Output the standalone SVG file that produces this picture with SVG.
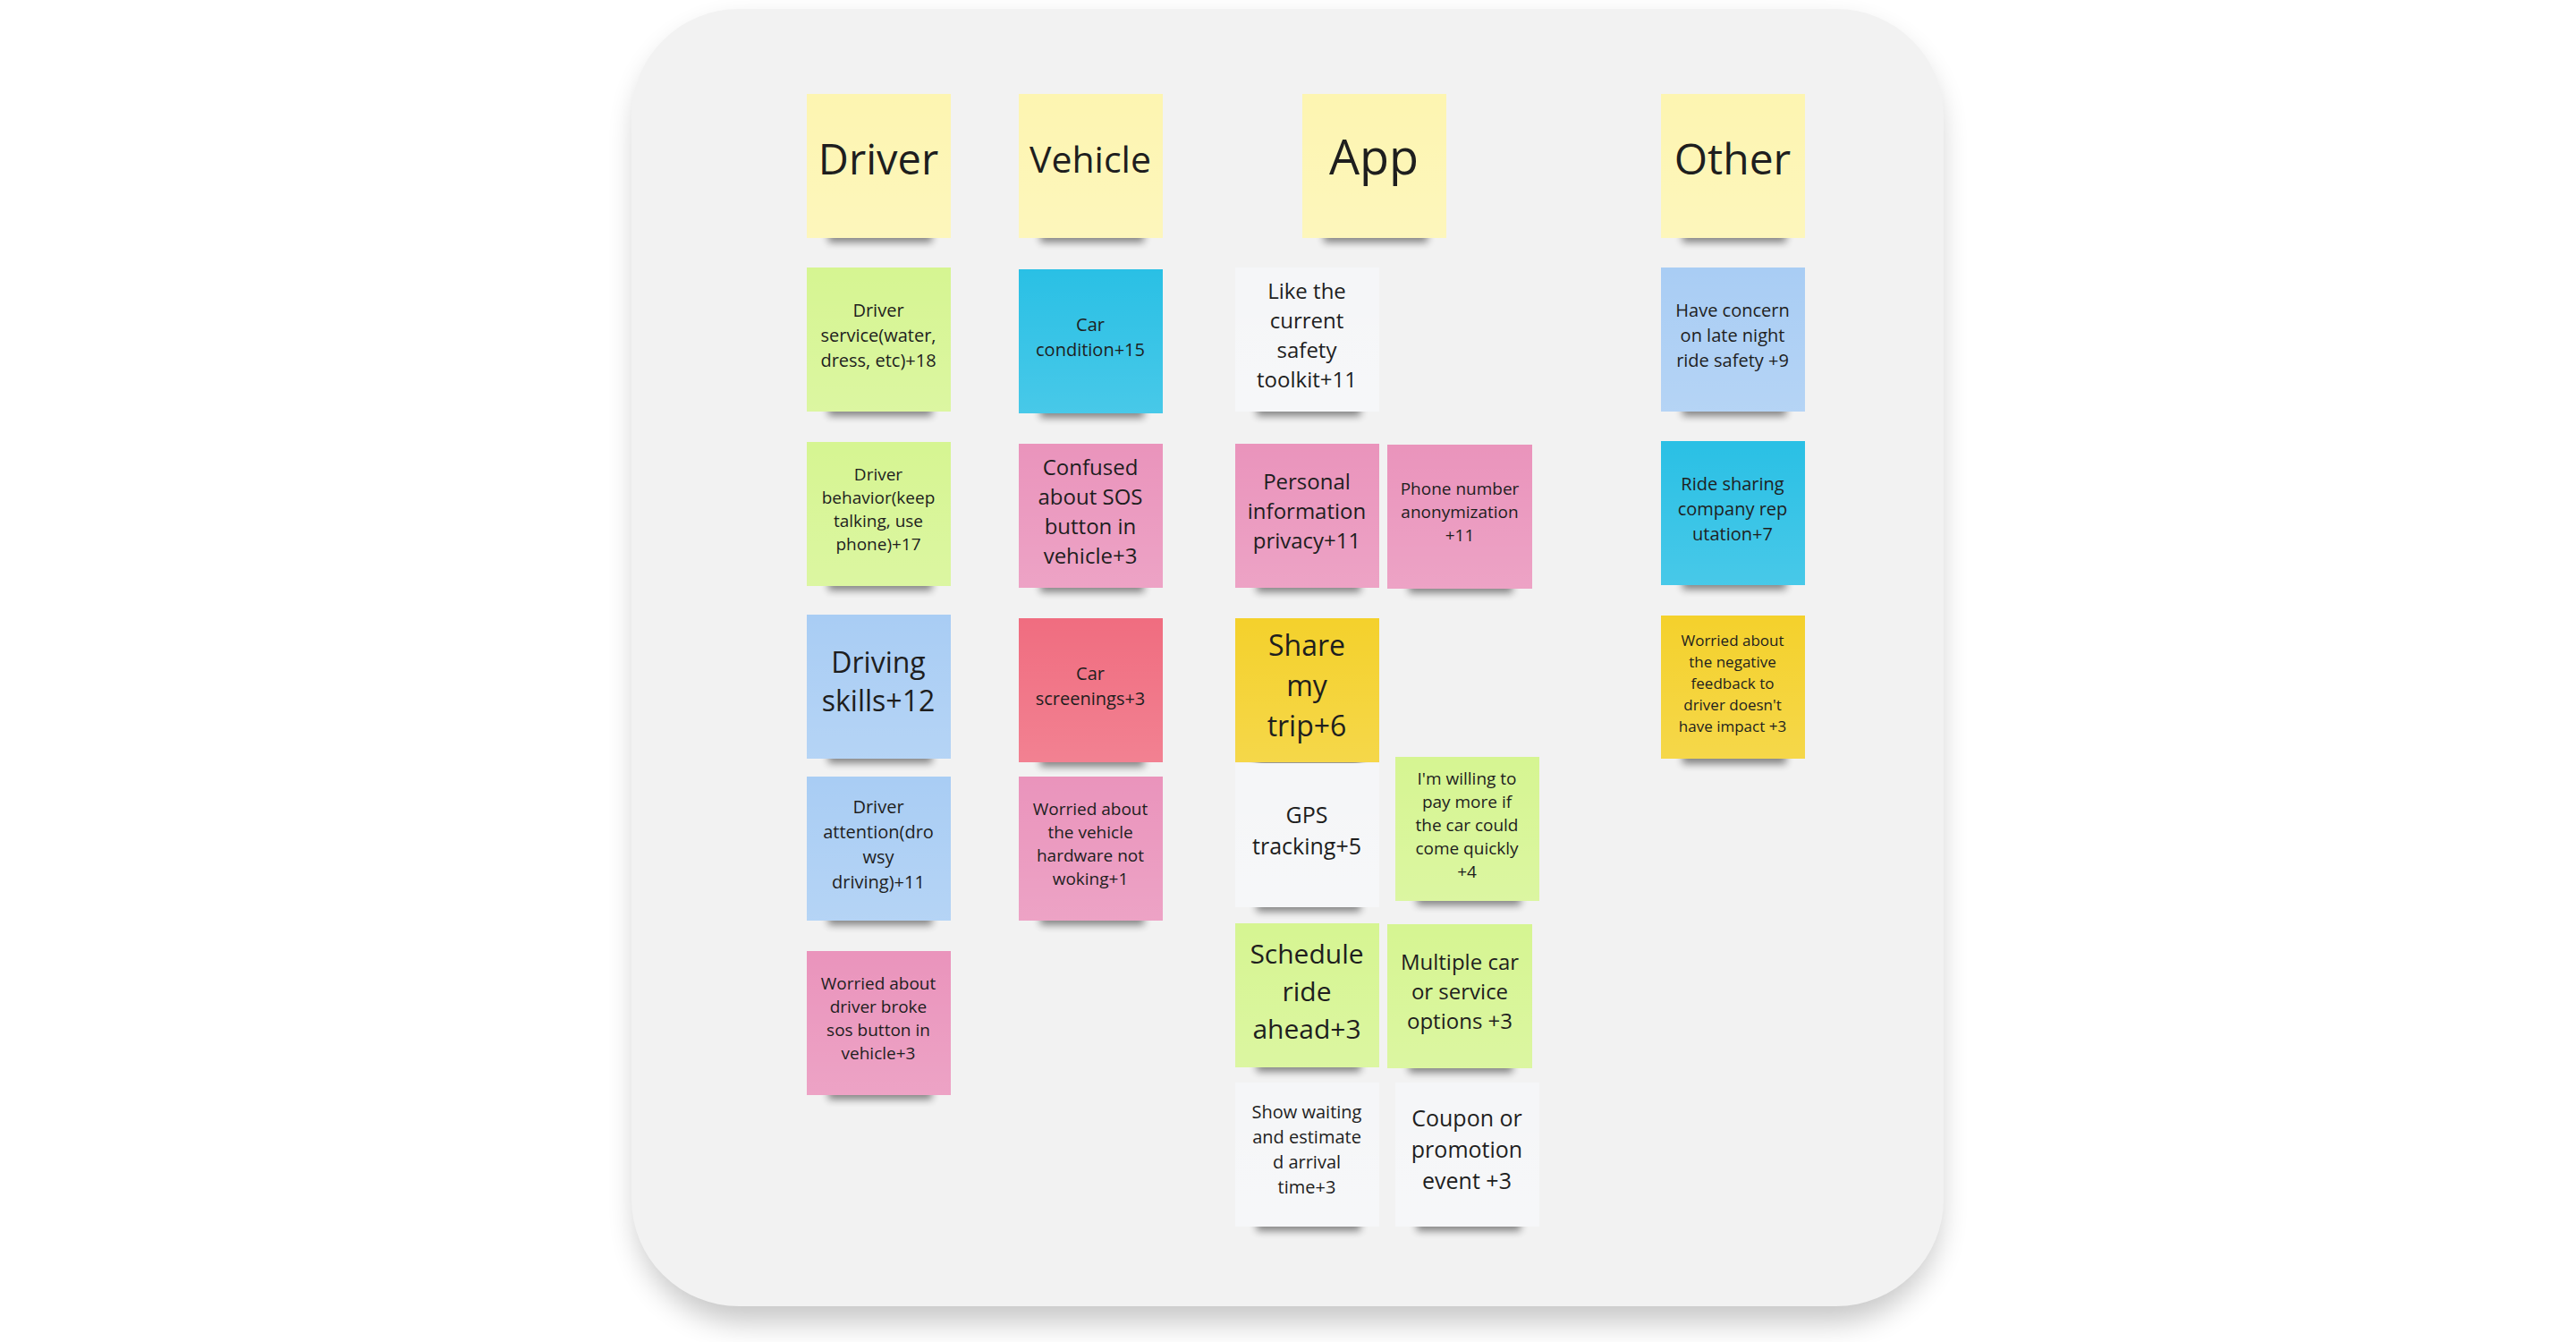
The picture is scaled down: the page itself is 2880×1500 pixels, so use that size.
<svg xmlns="http://www.w3.org/2000/svg" width="2880" height="1500" viewBox="0 0 2880 1500">
<defs>
<filter id="boardShadow" x="-10%" y="-10%" width="120%" height="125%">
<feGaussianBlur stdDeviation="16"/>
</filter>
<filter id="noteShadow" x="-20%" y="-200%" width="140%" height="500%">
<feGaussianBlur stdDeviation="4"/>
</filter>
<linearGradient id="sheen" x1="0" y1="0" x2="0" y2="1">
<stop offset="0" stop-color="#ffffff" stop-opacity="0"/>
<stop offset="1" stop-color="#ffffff" stop-opacity="0.14"/>
</linearGradient>
<style>
.yel{fill:#fdf5b1}
.grn{fill:#d6f592}
.blu{fill:#a9cdf4}
.cyn{fill:#2ac0e5}
.pnk{fill:#ea94bc}
.red{fill:#f06d80}
.gld{fill:#f4d12c}
.wht{fill:#f5f6f8}
.sh{fill:#000;opacity:0.45;filter:url(#noteShadow)}
.sh2{fill:#000;opacity:0.08;filter:url(#boardShadow)}
.gl{fill:url(#sheen)}
text{font-family:"Open Sans","Noto Sans","Liberation Sans",sans-serif;fill:#1e1e1e;text-anchor:middle}
</style>
</defs>
<rect x="0" y="0" width="2880" height="1500" fill="#ffffff"/>
<g id="board">
<rect x="712" y="28" width="1456" height="1450" rx="120" fill="#000" opacity="0.22" filter="url(#boardShadow)"/>
<rect x="706" y="10" width="1467" height="1450" rx="120" fill="#f2f2f2"/>
</g>
<g id="connectors"/>

<g id="h-driver" transform="translate(902,105)">
<rect class="sh" x="24" y="150" width="116" height="16"/>
<rect class="yel" width="161" height="161"/><rect class="gl" width="161" height="161"/>
<text x="80" y="90" font-size="47">Driver</text>
</g>
<g id="h-vehicle" transform="translate(1139,105)">
<rect class="sh" x="24" y="150" width="116" height="16"/>
<rect class="yel" width="161" height="161"/><rect class="gl" width="161" height="161"/>
<text x="80" y="88" font-size="41">Vehicle</text>
</g>
<g id="h-app" transform="translate(1456,105)">
<rect class="sh" x="24" y="150" width="116" height="16"/>
<rect class="yel" width="161" height="161"/><rect class="gl" width="161" height="161"/>
<text x="80" y="90" font-size="54">App</text>
</g>
<g id="h-other" transform="translate(1857,105)">
<rect class="sh" x="24" y="150" width="116" height="16"/>
<rect class="yel" width="161" height="161"/><rect class="gl" width="161" height="161"/>
<text x="80" y="90" font-size="48">Other</text>
</g>

<g id="driver-service" transform="translate(902,299)" font-size="20">
<rect class="sh" x="24" y="150" width="116" height="16"/>
<rect class="grn" width="161" height="161"/><rect class="gl" width="161" height="161"/>
<text x="80" y="54.5">Driver</text><text x="80" y="82.5">service(water,</text><text x="80" y="110.5">dress, etc)+18</text>
</g>
<g id="driver-behavior" transform="translate(902,494)" font-size="19">
<rect class="sh" x="24" y="150" width="116" height="16"/>
<rect class="grn" width="161" height="161"/><rect class="gl" width="161" height="161"/>
<text x="80" y="43">Driver</text><text x="80" y="69">behavior(keep</text><text x="80" y="95">talking, use</text><text x="80" y="121">phone)+17</text>
</g>
<g id="driving-skills" transform="translate(902,687)" font-size="32">
<rect class="sh" x="24" y="150" width="116" height="16"/>
<rect class="blu" width="161" height="161"/><rect class="gl" width="161" height="161"/>
<text x="80" y="65">Driving</text><text x="80" y="108">skills+12</text>
</g>
<g id="driver-attention" transform="translate(902,868)" font-size="20">
<rect class="sh" x="24" y="150" width="116" height="16"/>
<rect class="blu" width="161" height="161"/><rect class="gl" width="161" height="161"/>
<text x="80" y="40.5">Driver</text><text x="80" y="68.5">attention(dro</text><text x="80" y="96.5">wsy</text><text x="80" y="124.5">driving)+11</text>
</g>
<g id="driver-sos" transform="translate(902,1063)" font-size="19">
<rect class="sh" x="24" y="150" width="116" height="16"/>
<rect class="pnk" width="161" height="161"/><rect class="gl" width="161" height="161"/>
<text x="80" y="43">Worried about</text><text x="80" y="69">driver broke</text><text x="80" y="95">sos button in</text><text x="80" y="121">vehicle+3</text>
</g>

<g id="car-condition" transform="translate(1139,301)" font-size="20">
<rect class="sh" x="24" y="150" width="116" height="16"/>
<rect class="cyn" width="161" height="161"/><rect class="gl" width="161" height="161"/>
<text x="80" y="68.5">Car</text><text x="80" y="96.5">condition+15</text>
</g>
<g id="confused-sos" transform="translate(1139,496)" font-size="24">
<rect class="sh" x="24" y="150" width="116" height="16"/>
<rect class="pnk" width="161" height="161"/><rect class="gl" width="161" height="161"/>
<text x="80" y="34.5">Confused</text><text x="80" y="67.5">about SOS</text><text x="80" y="100.5">button in</text><text x="80" y="133.5">vehicle+3</text>
</g>
<g id="car-screenings" transform="translate(1139,691)" font-size="20">
<rect class="sh" x="24" y="150" width="116" height="16"/>
<rect class="red" width="161" height="161"/><rect class="gl" width="161" height="161"/>
<text x="80" y="68.5">Car</text><text x="80" y="96.5">screenings+3</text>
</g>
<g id="vehicle-hardware" transform="translate(1139,868)" font-size="19">
<rect class="sh" x="24" y="150" width="116" height="16"/>
<rect class="pnk" width="161" height="161"/><rect class="gl" width="161" height="161"/>
<text x="80" y="43">Worried about</text><text x="80" y="69">the vehicle</text><text x="80" y="95">hardware not</text><text x="80" y="121">woking+1</text>
</g>

<g id="safety-toolkit" transform="translate(1381,299)" font-size="24">
<rect class="sh" x="24" y="150" width="116" height="16"/>
<rect class="wht" width="161" height="161"/><rect class="gl" width="161" height="161"/>
<text x="80" y="34.5">Like the</text><text x="80" y="67.5">current</text><text x="80" y="100.5">safety</text><text x="80" y="133.5">toolkit+11</text>
</g>
<g id="personal-privacy" transform="translate(1381,496)" font-size="24">
<rect class="sh" x="24" y="150" width="116" height="16"/>
<rect class="pnk" width="161" height="161"/><rect class="gl" width="161" height="161"/>
<text x="80" y="51">Personal</text><text x="80" y="84">information</text><text x="80" y="117">privacy+11</text>
</g>
<g id="phone-anon" transform="translate(1551,497)" font-size="19">
<rect class="sh" x="24" y="150" width="116" height="16"/>
<rect class="pnk" width="162" height="161"/><rect class="gl" width="162" height="161"/>
<text x="81" y="56">Phone number</text><text x="81" y="82">anonymization</text><text x="81" y="108">+11</text>
</g>
<g id="share-trip" transform="translate(1381,691)" font-size="32">
<rect class="sh" x="24" y="150" width="116" height="16"/>
<rect class="gld" width="161" height="161"/><rect class="gl" width="161" height="161"/>
<text x="80" y="41.5">Share</text><text x="80" y="86.5">my</text><text x="80" y="131.5">trip+6</text>
</g>
<g id="gps-tracking" transform="translate(1381,853)" font-size="25">
<rect class="sh" x="24" y="150" width="116" height="16"/>
<rect class="wht" width="161" height="161"/><rect class="gl" width="161" height="161"/>
<text x="80" y="67">GPS</text><text x="80" y="102">tracking+5</text>
</g>
<g id="pay-more" transform="translate(1560,846)" font-size="19">
<rect class="sh" x="24" y="150" width="116" height="16"/>
<rect class="grn" width="161" height="161"/><rect class="gl" width="161" height="161"/>
<text x="80" y="31">I'm willing to</text><text x="80" y="57">pay more if</text><text x="80" y="83">the car could</text><text x="80" y="109">come quickly</text><text x="80" y="135">+4</text>
</g>
<g id="schedule-ride" transform="translate(1381,1032)" font-size="30">
<rect class="sh" x="24" y="150" width="116" height="16"/>
<rect class="grn" width="161" height="161"/><rect class="gl" width="161" height="161"/>
<text x="80" y="44.5">Schedule</text><text x="80" y="86.5">ride</text><text x="80" y="128.5">ahead+3</text>
</g>
<g id="multiple-options" transform="translate(1551,1033)" font-size="24">
<rect class="sh" x="24" y="150" width="116" height="16"/>
<rect class="grn" width="162" height="161"/><rect class="gl" width="162" height="161"/>
<text x="81" y="50.5">Multiple car</text><text x="81" y="83.5">or service</text><text x="81" y="116.5">options +3</text>
</g>
<g id="waiting-time" transform="translate(1381,1210)" font-size="20">
<rect class="sh" x="24" y="150" width="116" height="16"/>
<rect class="wht" width="161" height="161"/><rect class="gl" width="161" height="161"/>
<text x="80" y="40">Show waiting</text><text x="80" y="68">and estimate</text><text x="80" y="96">d arrival</text><text x="80" y="124">time+3</text>
</g>
<g id="coupon" transform="translate(1560,1210)" font-size="25">
<rect class="sh" x="24" y="150" width="116" height="16"/>
<rect class="wht" width="161" height="161"/><rect class="gl" width="161" height="161"/>
<text x="80" y="48.5">Coupon or</text><text x="80" y="83.5">promotion</text><text x="80" y="118.5">event +3</text>
</g>

<g id="late-night" transform="translate(1857,299)" font-size="20">
<rect class="sh" x="24" y="150" width="116" height="16"/>
<rect class="blu" width="161" height="161"/><rect class="gl" width="161" height="161"/>
<text x="80" y="54.5">Have concern</text><text x="80" y="82.5">on late night</text><text x="80" y="110.5">ride safety +9</text>
</g>
<g id="reputation" transform="translate(1857,493)" font-size="20">
<rect class="sh" x="24" y="150" width="116" height="16"/>
<rect class="cyn" width="161" height="161"/><rect class="gl" width="161" height="161"/>
<text x="80" y="54.5">Ride sharing</text><text x="80" y="82.5">company rep</text><text x="80" y="110.5">utation+7</text>
</g>
<g id="negative-feedback" transform="translate(1857,688)" font-size="17">
<rect class="sh" x="24" y="150" width="116" height="16"/>
<rect class="gld" width="161" height="160"/><rect class="gl" width="161" height="160"/>
<text x="80" y="34">Worried about</text><text x="80" y="58">the negative</text><text x="80" y="82">feedback to</text><text x="80" y="106">driver doesn't</text><text x="80" y="130">have impact +3</text>
</g>
</svg>
